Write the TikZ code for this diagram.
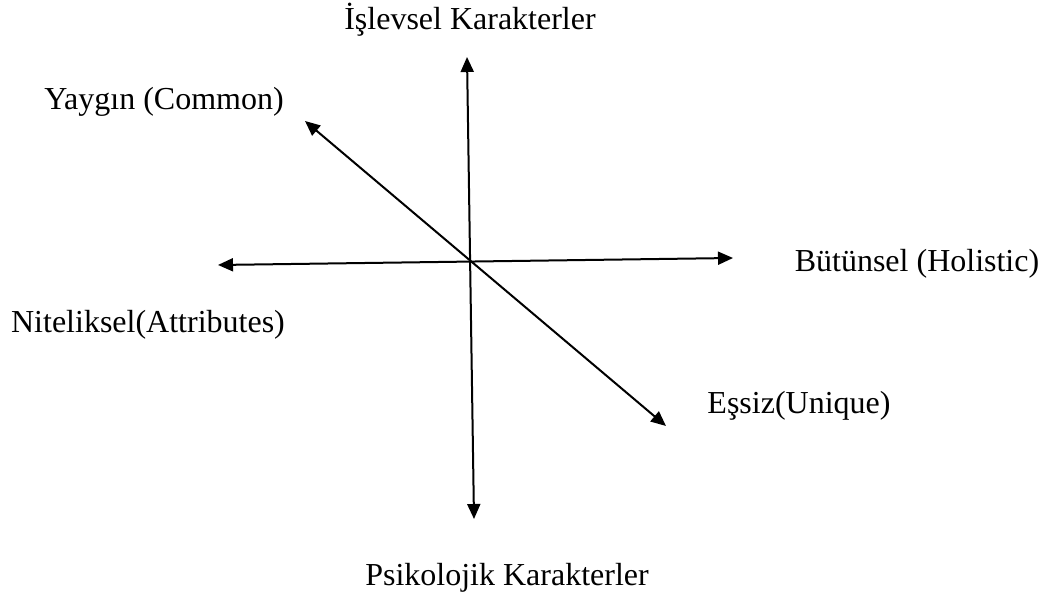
\documentclass[tikz,border=0pt]{standalone}
\usepackage{fontspec}
\setmainfont{Liberation Serif}
\usetikzlibrary{positioning,arrows.meta}

\begin{document}
\begin{tikzpicture}[
    x=0.5pt,
    y=-0.5pt,
    font=\fontsize{16}{19}\selectfont,
    axis/.style={
        draw,
        {Triangle[length=7.5pt,width=6.5pt]}-{Triangle[length=7.5pt,width=6.5pt]},
        line width=1pt
    },
    label text/.style={
        inner sep=0pt,
        anchor=center
    }
]
    \useasboundingbox (0,0) rectangle (1048,597);

    % arrow ends
    \coordinate (top) at (467,57);
    \coordinate (bottom) at (474,519);
    \coordinate (west) at (218,265);
    \coordinate (east) at (733,258);
    \coordinate (nw) at (305,121);
    \coordinate (se) at (666,426);

    % axes
    \draw[axis] (bottom) -- (top);
    \draw[axis] (west) -- (east);
    \draw[axis] (se) -- (nw);

    % labels
    \node[label text] (islevsel) at (470,20) {İşlevsel Karakterler};
    \node[label text] (psikolojik) at (507,578) {Psikolojik Karakterler};
    \node[label text] (yaygin) at (164,102) {Yaygın (Common)};
    \node[label text] (essiz) at (799,406) {Eşsiz(Unique)};
    \node[label text] (butunsel) at (917,264) {Bütünsel (Holistic)};
    \node[label text] (niteliksel) at (148,325) {Niteliksel(Attributes)};
\end{tikzpicture}
\end{document}
